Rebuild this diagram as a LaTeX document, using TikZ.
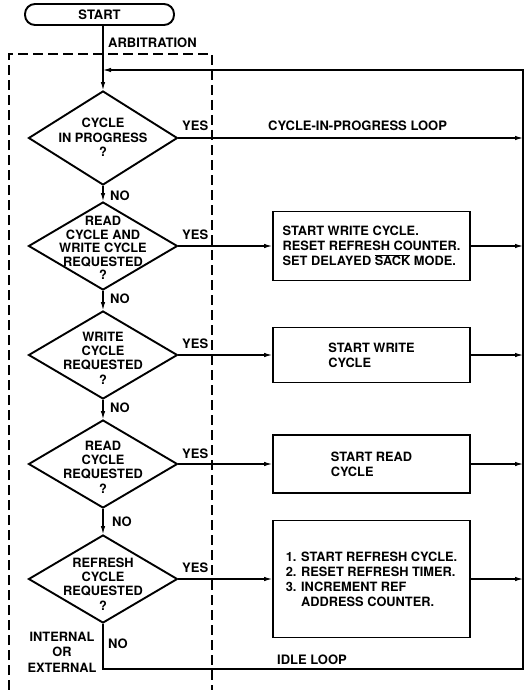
\documentclass[tikz,border=0pt]{standalone}
\usepackage{fontspec}
\setmainfont{TeX Gyre Heros}
\usetikzlibrary{shapes.geometric,arrows.meta}
\begin{document}
\begin{tikzpicture}[x=1pt,y=-1pt,
  font=\fontsize{13}{14}\selectfont\bfseries,
  dia/.style={diamond, draw, line width=1.9pt, minimum width=149pt, minimum height=88pt, inner sep=0pt},
  dtext/.style={align=center, inner sep=0pt, font=\fontsize{12.8}{14.3}\selectfont\bfseries},
  pbox/.style={draw, line width=1.9pt, minimum width=197pt, align=left, inner sep=0pt, font=\fontsize{12.8}{15}\selectfont\bfseries},
  lbl/.style={inner sep=0pt},
  conn/.style={line width=1.1pt},
  arr/.style={conn, -{Latex[length=8pt,width=4.5pt]}},
  dashbox/.style={line width=1.1pt, dash pattern=on 10pt off 5pt},
  term/.style={draw, line width=1.9pt, rounded corners=10pt, minimum width=149pt, minimum height=21pt, inner sep=0pt}
]
\useasboundingbox (0,0) rectangle (525,690);

% dashed arbitration frame
\coordinate (fA) at (9,690);
\coordinate (fB) at (9,54);
\coordinate (fC) at (212,54);
\coordinate (fD) at (212,690);
\draw[dashbox] (fA) -- (fB) -- (fC) -- (fD);

% start and label
\node[term] (start) at (99.5,14.5) {START};
\node[lbl, anchor=west] (arb) at (108,42.5) {ARBITRATION};

% decisions
\node[dia, minimum height=94pt] (d1) at (103,138) {};
\node[dtext] (t1) at (103,137.5) {CYCLE\\IN PROGRESS\\?};
\node[dia] (d2) at (103,246) {};
\node[dtext, font=\fontsize{12.8}{13.5}\selectfont\bfseries] (t2) at (103,248) {READ\\CYCLE AND\\WRITE CYCLE\\REQUESTED\\?};
\node[dia] (d3) at (103,355) {};
\node[dtext] (t3) at (103,358) {WRITE\\CYCLE\\REQUESTED\\?};
\node[dia] (d4) at (103,464) {};
\node[dtext] (t4) at (103,467) {READ\\CYCLE\\REQUESTED\\?};
\node[dia] (d5) at (103,579) {};
\node[dtext] (t5) at (103,584) {REFRESH\\CYCLE\\REQUESTED\\?};

% process boxes
\node[pbox, minimum height=69pt] (b2) at (371.5,246) {START WRITE CYCLE.\\RESET REFRESH COUNTER.\\SET DELAYED $\overline{\mbox{SACK}}$ MODE.};
\node[pbox, minimum height=55pt] (b3) at (371.5,355) {START WRITE\\CYCLE};
\node[pbox, minimum height=58pt] (b4) at (371.5,464) {START READ\\CYCLE};
\node[pbox, minimum height=117pt] (b5) at (371.5,579) {1. START REFRESH CYCLE.\\2. RESET REFRESH TIMER.\\3. INCREMENT REF\\\phantom{3. }ADDRESS COUNTER.};

% right return line
\coordinate (R0) at (523,70);
\coordinate (R1) at (523,669);

% vertical flow
\draw[arr] (start.south -| d1.north) -- (d1.north);
\draw[arr] (d1.south) -- (d2.north);
\draw[arr] (d2.south) -- (d3.north);
\draw[arr] (d3.south) -- (d4.north);
\draw[arr] (d4.south) -- (d5.north);

% yes branches
\draw[arr] (d1.east) -- (d1.east -| R0);
\draw[arr] (d2.east) -- (b2.west);
\draw[arr] (d3.east) -- (b3.west);
\draw[arr] (d4.east) -- (b4.west);
\draw[arr] (d5.east) -- (b5.west);
\draw[arr] (b2.east) -- (b2.east -| R0);
\draw[arr] (b3.east) -- (b3.east -| R0);
\draw[arr] (b4.east) -- (b4.east -| R0);
\draw[arr] (b5.east) -- (b5.east -| R0);

% idle loop and return
\draw[arr] (d5.south) |- (R1) -- (R0) -- (R0 -| d1.north);

% labels
\node[lbl, anchor=west] (y1) at (182,126) {YES};
\node[lbl, anchor=west] (y2) at (182,235) {YES};
\node[lbl, anchor=west] (y3) at (182,344) {YES};
\node[lbl, anchor=west] (y4) at (182,454) {YES};
\node[lbl, anchor=west] (y5) at (182,568) {YES};
\node[lbl, anchor=west] (n1) at (110,196) {NO};
\node[lbl, anchor=west] (n2) at (110,299) {NO};
\node[lbl, anchor=west] (n3) at (110,408) {NO};
\node[lbl, anchor=west] (n4) at (112,522) {NO};
\node[lbl, anchor=west] (n5) at (108,644) {NO};
\node[lbl, anchor=west] (cipl) at (268,126) {CYCLE-IN-PROGRESS LOOP};
\node[lbl, anchor=west] (idle) at (277,660) {IDLE LOOP};
\node[lbl, align=center, font=\fontsize{12.8}{15.5}\selectfont\bfseries] (ioe) at (62,652) {INTERNAL\\OR\\EXTERNAL};
\end{tikzpicture}
\end{document}
